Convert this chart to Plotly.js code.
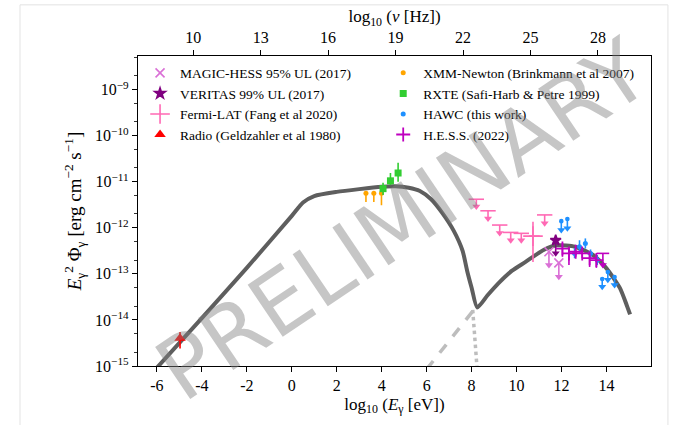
<!DOCTYPE html>
<html>
<head>
<meta charset="utf-8">
<script src="https://cdn.plot.ly/plotly-3.0.1.min.js"></script>
<style>html,body{margin:0;padding:0;background:#fff;}#chart{width:677px;height:425px;}</style>
</head>
<body>
<div id="chart"></div>
<script>
// ---------------- data (log10 values) ----------------
const modelLogE = [-6.3, -4, -2, 0, 0.5, 1.0, 2.0, 3.0, 4.0, 4.6, 5.2, 5.7, 6.2, 6.7, 7.2, 7.6, 7.8, 8.0, 8.25, 8.7, 9.2, 9.8, 10.4, 11.2, 11.8, 12.6, 13.4, 14.0, 14.6, 14.9, 15.05];
const modelLogF = [-15.2, -13.96, -12.87, -11.74, -11.45, -11.31, -11.22, -11.16, -11.11, -11.10, -11.13, -11.2, -11.38, -11.68, -12.06, -12.5, -12.93, -13.3, -13.73, -13.47, -13.2, -12.93, -12.74, -12.48, -12.38, -12.41, -12.59, -12.88, -13.31, -13.68, -13.88];
const icLowLogE = [6.0, 8.2];
const icLowLogF = [-15.07, -13.72];
const synTailLogE = [8.05, 8.25];
const synTailLogF = [-13.78, -15.1];

const magicLogE = [11.44, 11.88];
const magicLogF = [-12.52, -12.76];
const magicTip = [-12.81, -13.06];

const veritasLogE = [11.74];
const veritasLogF = [-12.27];
const veritasTip = [-12.55];

const fermiLogE = [10.73];
const fermiLogF = [-12.18];
const fermiHi = [-11.87];
const fermiLo = [-12.74];
const fermiXPlus = [0.30];
const fermiXMinus = [0.18];
const fermiUlLogE = [8.21, 8.73, 9.25, 9.74, 10.21, 11.25];
const fermiUlLogF = [-11.38, -11.63, -11.94, -12.10, -12.12, -11.72];
const fermiUlTip = [-11.54, -11.80, -12.11, -12.27, -12.27, -11.90];

const radioLogE = [-4.97];
const radioLogF = [-14.40];
const radioHi = [-14.26];
const radioLo = [-14.62];

const xmmLogE = [3.30, 3.65, 3.99];
const xmmLogF = [-11.25, -11.25, -11.25];
const xmmHi = [-11.20, -11.20, -11.20];
const xmmLo = [-11.44, -11.44, -11.51];

const rxteLogE = [4.06, 4.39, 4.73];
const rxteLogF = [-11.15, -10.98, -10.81];
const rxteHi = [-11.02, -10.81, -10.59];
const rxteLo = [-11.29, -11.07, -11.00];

const hawcLogE = [12.58, 12.80, 13.06, 13.29, 13.59];
const hawcLogF = [-12.555, -12.41, -12.34, -12.555, -12.70];
const hawcHi = [-12.44, -12.27, -12.23, -12.47, -12.59];
const hawcLo = [-12.66, -12.55, -12.45, -12.66, -12.81];
const hawcUlLogE = [11.99, 12.26, 13.81, 14.06, 14.36];
const hawcUlLogF = [-11.855, -11.81, -13.11, -12.96, -13.07];
const hawcUlTip = [-12.05, -12.01, -13.28, -13.13, -13.24];

const hessLogE = [12.04, 12.33, 12.63, 12.92, 13.25, 13.55];
const hessLogF = [-12.45, -12.555, -12.52, -12.555, -12.66, -12.70];
const hessHi = [-12.33, -12.44, -12.47, -12.46, -12.59, -12.59];
const hessLo = [-12.63, -12.81, -12.63, -12.66, -12.85, -12.87];
const hessUlLogE = [13.84];
const hessUlLogF = [-12.555];
const hessUlTip = [-12.81];

const xTickVals = [-6, -4, -2, 0, 2, 4, 6, 8, 10, 12, 14, 16];
const xTickText = ['-6', '-4', '-2', '0', '2', '4', '6', '8', '10', '12', '14', '16'];
const nuTickVals = [10, 13, 16, 19, 22, 25, 28];
const yTickExp = [-15, -14, -13, -12, -11, -10, -9];

// ---------------- helpers ----------------
const P = v => Math.pow(10, v);
const FONT = 'Liberation Serif, DejaVu Serif, serif';
const C = {magic:'#DA70D6', veritas:'#800080', fermi:'#FF69B4', radio:'#FF0000',
           xmm:'#FFA500', rxte:'#32CD32', hawc:'#1E90FF', hess:'#BF00BF'};

function errY(vals, hi, lo, color, w) {
  return {type:'data', symmetric:false,
    array: hi.map((h,i)=>P(h)-P(vals[i])),
    arrayminus: vals.map((v,i)=>P(v)-P(lo[i])),
    color: color, thickness: 1.6, width: w||0};
}
function ulTraces(name, xs, vals, tips, color, sym, size, legend, show) {
  const main = {type:'scatter', mode:'markers', name:name, x:xs, y:vals.map(P),
    legend: legend, showlegend: show, hoverinfo:'skip',
    marker:{symbol:sym, size:size, color:color, line:{color:color, width:1.6}},
    error_y:{type:'data', symmetric:false, array: vals.map(()=>0),
      arrayminus: vals.map((v,i)=>P(v)-P(tips[i])), color:color, thickness:1.6, width:0}};
  const head = {type:'scatter', mode:'markers', x:xs, y:tips.map(P), showlegend:false, hoverinfo:'skip',
    marker:{symbol:'triangle-down', size:7, color:color, line:{width:0}}};
  return [main, head];
}

const traces = [];
// model curves
traces.push({type:'scatter', mode:'lines', x:icLowLogE, y:icLowLogF.map(P), showlegend:false, hoverinfo:'skip',
  line:{color:'#bdbdbd', width:3.5, dash:'dash'}});
traces.push({type:'scatter', mode:'lines', x:synTailLogE, y:synTailLogF.map(P), showlegend:false, hoverinfo:'skip',
  line:{color:'#bdbdbd', width:3.5, dash:'dot'}});
traces.push({type:'scatter', mode:'lines', x:modelLogE, y:modelLogF.map(P), showlegend:false, hoverinfo:'skip',
  line:{color:'#5e5e5e', width:4, shape:'spline', smoothing:0.6}});

// legend column 1
traces.push(...ulTraces('MAGIC-HESS 95% UL (2017)', magicLogE, magicLogF, magicTip, C.magic, 'x-thin', 9, 'legend', true));
traces.push(...ulTraces('VERITAS 99% UL (2017)', veritasLogE, veritasLogF, veritasTip, C.veritas, 'star', 8, 'legend', true));
traces.push({type:'scatter', mode:'markers', name:'Fermi-LAT (Fang et al 2020)', x:fermiLogE, y:fermiLogF.map(P),
  legend:'legend', hoverinfo:'skip',
  marker:{symbol:'cross-thin', size:14, color:C.fermi, line:{color:C.fermi, width:1.6}},
  error_y: errY(fermiLogF, fermiHi, fermiLo, C.fermi, 0),
  error_x: {type:'data', symmetric:false, array:fermiXPlus, arrayminus:fermiXMinus, color:C.fermi, thickness:1.6, width:0}});
traces.push(...ulTraces('Fermi-LAT UL', fermiUlLogE, fermiUlLogF, fermiUlTip, C.fermi, 'line-ew', 11, 'legend', false));
traces.push({type:'scatter', mode:'markers', name:'Radio (Geldzahler et al 1980)', x:radioLogE, y:radioLogF.map(P),
  legend:'legend', hoverinfo:'skip',
  marker:{symbol:'triangle-up', size:10, color:C.radio},
  error_y: errY(radioLogF, radioHi, radioLo, C.radio, 0)});

// legend column 2
traces.push({type:'scatter', mode:'markers', name:'XMM-Newton (Brinkmann et al 2007)', x:xmmLogE, y:xmmLogF.map(P),
  legend:'legend2', hoverinfo:'skip', marker:{symbol:'circle', size:5, color:C.xmm},
  error_y: errY(xmmLogF, xmmHi, xmmLo, C.xmm, 0)});
traces.push({type:'scatter', mode:'markers', name:'RXTE (Safi-Harb & Petre 1999)', x:rxteLogE, y:rxteLogF.map(P),
  legend:'legend2', hoverinfo:'skip', marker:{symbol:'square', size:7, color:C.rxte},
  error_y: errY(rxteLogF, rxteHi, rxteLo, C.rxte, 0)});
traces.push({type:'scatter', mode:'markers', name:'HAWC (this work)', x:hawcLogE, y:hawcLogF.map(P),
  legend:'legend2', hoverinfo:'skip', marker:{symbol:'circle', size:5, color:C.hawc},
  error_y: errY(hawcLogF, hawcHi, hawcLo, C.hawc, 0)});
traces.push(...ulTraces('HAWC UL', hawcUlLogE, hawcUlLogF, hawcUlTip, C.hawc, 'circle', 3, 'legend2', false));
traces.push({type:'scatter', mode:'markers', name:'H.E.S.S. (2022)', x:hessLogE, y:hessLogF.map(P),
  legend:'legend2', hoverinfo:'skip',
  marker:{symbol:'cross-thin', size:10, color:C.hess, line:{color:C.hess, width:1.8}},
  error_y: errY(hessLogF, hessHi, hessLo, C.hess, 0)});
traces.push(...ulTraces('H.E.S.S. UL', hessUlLogE, hessUlLogF, hessUlTip, C.hess, 'line-ew', 9, 'legend2', false));

// invisible trace so the top frequency axis is drawn
traces.push({type:'scatter', mode:'markers', x:[nuTickVals[0]], y:[P(yTickExp[3])], xaxis:'x2',
  showlegend:false, hoverinfo:'skip', marker:{opacity:0}});

const axisFont = {family: FONT, size: 16, color:'#000'};
const layout = {
  width: 677, height: 425,
  margin: {l:138, r:26, t:56, b:59, pad:0},
  paper_bgcolor:'#fff', plot_bgcolor:'#fff',
  font: {family: FONT, color:'#000'},
  xaxis: {range:[-6.84, 15.98], tickvals:xTickVals, ticktext:xTickText, ticks:'outside', ticklen:5, tickwidth:1,
    tickcolor:'#000', showline:true, linecolor:'#000', linewidth:1.2, showgrid:false, zeroline:false,
    tickfont: axisFont,
    title:{text:'log<sub>10</sub> (<i>E</i><sub>γ</sub> [eV])', font:{family:FONT, size:17}, standoff:4}},
  xaxis2: {overlaying:'x', side:'top', anchor:'y', range:[-6.84+14.383, 15.98+14.383], tickvals:nuTickVals,
    ticks:'outside', ticklen:5, tickwidth:1, tickcolor:'#000', showline:true, linecolor:'#000', linewidth:1.2,
    showgrid:false, zeroline:false, tickfont: axisFont,
    title:{text:'log<sub>10</sub> (<i>ν</i> [Hz])', font:{family:FONT, size:17}, standoff:2}},
  yaxis: {type:'log', range:[-15.0, -8.27], tickvals:yTickExp.map(P),
    ticktext: yTickExp.map(e=>'10<sup>−'+Math.abs(e)+'</sup>'),
    ticks:'outside', ticklen:5, tickwidth:1, tickcolor:'#000',
    minor:{ticks:'outside', ticklen:3, tickwidth:0.8, tickcolor:'#000', showgrid:false},
    showline:true, linecolor:'#000', linewidth:1.2, mirror:true, showgrid:false, zeroline:false,
    tickfont: axisFont,
    title:{text:'<i>E</i><sub>γ</sub><sup>2</sup> Φ<sub>γ</sub> [erg cm<sup>−2</sup> s<sup>−1</sup>]', font:{family:FONT, size:19}, standoff:8}},
  legend: {x:0.004, y:0.995, xanchor:'left', yanchor:'top', bgcolor:'rgba(0,0,0,0)', borderwidth:0,
    font:{family:FONT, size:13.5}, tracegroupgap:0},
  legend2: {x:0.478, y:0.995, xanchor:'left', yanchor:'top', bgcolor:'rgba(0,0,0,0)', borderwidth:0,
    font:{family:FONT, size:13.5}, tracegroupgap:0},
  shapes: [
    {type:'line', xref:'paper', yref:'paper', x0:-0.23, x1:-0.23, y0:-0.2, y1:1.165, line:{color:'#e3e3e3', width:1}},
    {type:'line', xref:'paper', yref:'paper', x0:-0.23, x1:1.033, y0:1.165, y1:1.165, line:{color:'#e3e3e3', width:1}},
    {type:'line', xref:'paper', yref:'paper', x0:1.033, x1:1.033, y0:-0.2, y1:1.165, line:{color:'#e3e3e3', width:1}}
  ],
  annotations: [
    {text:'PRELIMINARY', xref:'paper', yref:'paper', x:0.515, y:0.47, showarrow:false, textangle:-34,
     font:{family:'DejaVu Sans, sans-serif', size:86, color:'rgba(128,128,128,0.45)'}}
  ]
};

Plotly.newPlot('chart', traces, layout, {staticPlot:true, displayModeBar:false});
</script>
</body>
</html>
